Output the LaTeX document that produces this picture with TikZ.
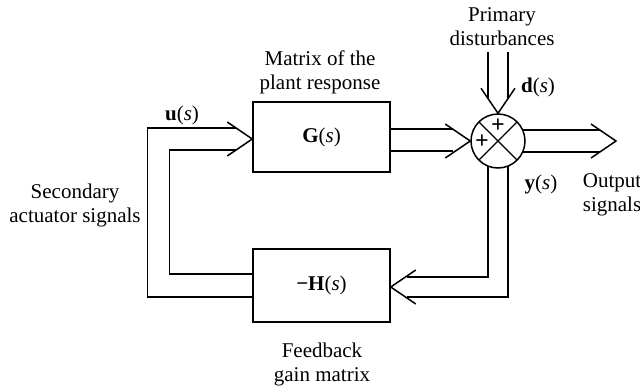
\documentclass[tikz,border=0pt]{standalone}
\usepackage{fontspec}
\setmainfont{Liberation Serif}
\usetikzlibrary{calc}
\begin{document}
\begin{tikzpicture}[x=1pt,y=-1pt,
  sig/.style={line width=1.5pt,line join=miter},
  blk/.style={draw,line width=1.5pt,minimum width=137pt,inner sep=0pt},
  lbl/.style={font=\fontsize{21}{24}\selectfont,align=center,inner sep=0pt},
  pls/.style={font=\fontsize{24}{24}\selectfont\bfseries,inner sep=0pt,anchor=base}]
\useasboundingbox (0,0) rectangle (640,391);
% blocks
\node[blk,minimum height=70pt] (G) at (321.5,137) {};
\node[blk,minimum height=73pt] (H) at (321.5,285.5) {};
\node[draw,circle,line width=1.5pt,minimum size=54pt,inner sep=0pt] (S) at (498,141) {};
\draw[line width=1.3pt] ($(S.center)+(-19.1,-19.1)$) -- ($(S.center)+(19.1,19.1)$);
\draw[line width=1.3pt] ($(S.center)+(19.1,-19.1)$) -- ($(S.center)+(-19.1,19.1)$);
\node[pls] (p1) at ($(S.center)+(0,-8.5)$) {+};
\node[pls] (p2) at ($(S.center)+(-16,7)$) {+};
% texts
\node[lbl] (tG) at (G.center) {\textbf{G}(\textit{s})};
\node[lbl] (tH) at (H.center) {\textbf{−H}(\textit{s})};
\node[lbl] (tM) at (320,72) {Matrix of the\\plant response};
\node[lbl] (tF) at (322,364) {Feedback\\gain matrix};
\node[lbl] (tP) at (502,27) {Primary\\disturbances};
\node[lbl] (tSec) at (75,205) {Secondary\\actuator signals};
\node[lbl] (tO) at (612,195) {Output\\signals};
\node[lbl] (tu) at (182,115) {\textbf{u}(\textit{s})};
\node[lbl] (td) at (538,87) {\textbf{d}(\textit{s})};
\node[lbl] (ty) at (541,184) {\textbf{y}(\textit{s})};
% input to G
\coordinate (gi) at ($(G.west)+(0,2)$);
\draw[sig] ($(H.west)+(0,11.5)$) -| ($(gi)+(-105,-11)$) -- ($(gi)+(-16,-11)$);
\draw[sig] ($(H.west)+(0,-11.5)$) -| ($(gi)+(-83,11)$) -- ($(gi)+(-16,11)$);
\draw[sig] ($(gi)+(-25,-17)$) -- (gi) -- ($(gi)+(-25,17)$);
% G to S
\coordinate (si) at (S.west);
\draw[sig] ($(G.east)+(0,-8)$) -- ($(si)+(-17,-12)$);
\draw[sig] ($(G.east)+(0,14)$) -- ($(si)+(-17,10)$);
\draw[sig] ($(si)+(-25,-17)$) -- (si) -- ($(si)+(-25,17)$);
% disturbance
\coordinate (sn) at (S.north);
\draw[sig] ($(sn)+(-10,-61)$) -- ($(sn)+(-10,-15)$);
\draw[sig] ($(sn)+(10,-61)$) -- ($(sn)+(10,-15)$);
\draw[sig] ($(sn)+(-17,-25)$) -- (sn) -- ($(sn)+(17,-25)$);
% output
\coordinate (so) at (616,141);
\draw[sig] ($(S.center)+(24.7,-11)$) -- ($(so)+(-16,-11)$);
\draw[sig] ($(S.center)+(24.7,11)$) -- ($(so)+(-16,11)$);
\draw[sig] ($(so)+(-25,-17)$) -- (so) -- ($(so)+(-25,17)$);
% feedback
\coordinate (hi) at ($(H.east)+(0,1.5)$);
\draw[sig] ($(S.center)+(-10,25)$) |- ($(hi)+(16,-10)$);
\draw[sig] ($(S.center)+(10,25)$) |- ($(hi)+(16,10)$);
\draw[sig] ($(hi)+(25,-17)$) -- (hi) -- ($(hi)+(25,17)$);
\end{tikzpicture}
\end{document}
